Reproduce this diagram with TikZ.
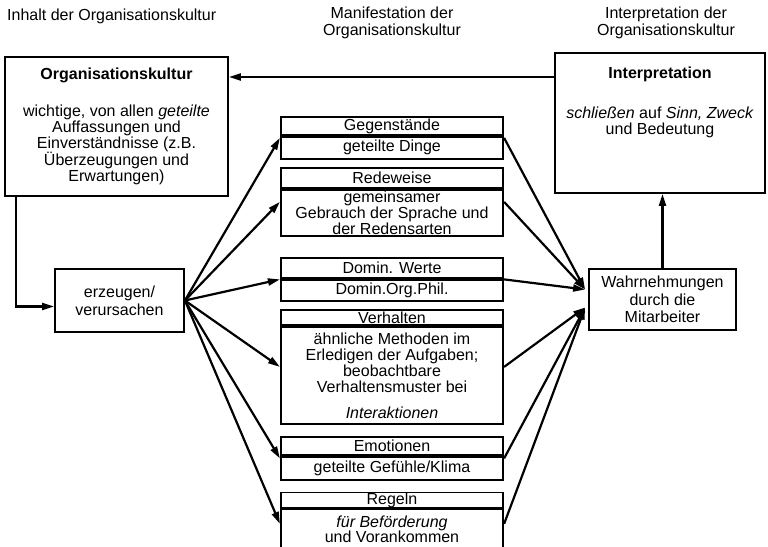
\documentclass[tikz,border=0pt]{standalone}
\usepackage{fontspec}
\setmainfont{Liberation Sans}
\usetikzlibrary{arrows.meta,fit}
\begin{document}
\begin{tikzpicture}[x=1pt,y=-1pt,
  every node/.style={font=\fontsize{16}{16}\selectfont, inner sep=0pt},
  frame/.style={draw, line width=1.8pt},
  cell/.style={frame, minimum width=222pt, align=center},
  link/.style={line width=2.2pt, -{Triangle[length=12pt,width=7pt]}},
  title/.style={align=center, font=\fontsize{16}{17}\selectfont}
]
\useasboundingbox (0,0) rectangle (768,546);
\clip (0,0) rectangle (768,546);

% column headings
\node[anchor=west] (hl) at (7,16) {Inhalt der Organisationskultur};
\node[title] (hm) at (392,23) {Manifestation der\\Organisationskultur};
\node[title] (hr) at (666,23) {Interpretation der\\Organisationskultur};

% content of the culture
\node[frame, minimum width=223pt, minimum height=139pt, align=center] (orgk) at (116.5,126.5)
  {\textbf{Organisationskultur}\\[21pt]wichtige, von allen \textit{geteilte}\\Auffassungen und\\Einverständnisse (z.B.\\Überzeugungen und\\Erwartungen)};

% interpretation
\node[frame, minimum width=210pt, minimum height=140pt] (interp) at (660,123) {};
\node[align=center] (interptxt) at (660,102)
  {\textbf{Interpretation}\\[24pt]\textit{schließen} auf \textit{Sinn, Zweck}\\und Bedeutung};

% cause
\node[frame, minimum width=129pt, minimum height=63pt, align=center,
      font=\fontsize{16}{18}\selectfont] (erz) at (119.5,300.5)
  {erzeugen/\\verursachen};

% perception
\node[frame, minimum width=147pt, minimum height=61pt, align=center,
      font=\fontsize{16}{17.5}\selectfont] (wahr) at (662.5,299.5)
  {Wahrnehmungen\\durch die\\Mitarbeiter};

% manifestations: heading cell + body cell
\node[cell, minimum height=18pt] (h1) at (392,126) {Gegenstände};
\node[cell, minimum height=22pt, anchor=north] (b1) at (h1.south) {geteilte Dinge};
\node[fit=(h1)(b1)] (m1) {};

\node[cell, minimum height=20pt] (h2) at (392,178) {Redeweise};
\node[cell, minimum height=46pt, anchor=north, font=\fontsize{16}{14.5}\selectfont] (b2) at (h2.south)
  {gemeinsamer\\Gebrauch der Sprache und\\der Redensarten};
\node[fit=(h2)(b2)] (m2) {};

\node[cell, minimum height=20pt] (h3) at (392,268) {Domin. Werte};
\node[cell, minimum height=21pt, anchor=north] (b3) at (h3.south) {Domin.Org.Phil.};
\node[fit=(h3)(b3)] (m3) {};

\node[cell, minimum height=15pt] (h4) at (392,317.5) {Verhalten};
\node[cell, minimum height=97pt, anchor=north] (b4) at (h4.south)
  {ähnliche Methoden im\\Erledigen der Aufgaben;\\beobachtbare\\Verhaltensmuster bei\\[10pt]\textit{Interaktionen}};
\node[fit=(h4)(b4)] (m4) {};

\node[cell, minimum height=18pt] (h5) at (392,446) {Emotionen};
\node[cell, minimum height=23pt, anchor=north] (b5) at (h5.south) {geteilte Gefühle/Klima};
\node[fit=(h5)(b5)] (m5) {};

\node[cell, minimum height=14pt] (h6) at (392,500) {Regeln};
\node[cell, minimum height=40pt, anchor=north, font=\fontsize{16}{15}\selectfont] (b6) at (h6.south)
  {\textit{für Beförderung}\\und Vorankommen};
\draw[line width=1.8pt] (b6.south west) -- ++(0,10) (b6.south east) -- ++(0,10);
\node[fit=(h6)(b6)] (m6) {};

% connectors
\draw[link] ([yshift=46pt]interp.west) coordinate (back) -- (orgk.east |- back);
\draw[link] ([xshift=12pt]orgk.south west) |- ([yshift=-6pt]erz.west);
\foreach \i in {1,...,5} \draw[link] (erz.east) -- (m\i.west);
\draw[link] (erz.east) -- ([yshift=-3pt]m6.west);
\foreach \i in {1,2,3} \draw[link] (m\i.east) -- ([xshift=-3pt,yshift=10pt]wahr.west);
\foreach \i in {4,5} \draw[link] (m\i.east) -- ([xshift=-3pt,yshift=-8pt]wahr.west);
\draw[link] ([yshift=-3pt]m6.east) -- ([xshift=-3pt,yshift=-8pt]wahr.west);
\draw[link] (wahr.north) -- (wahr.north |- interp.south);
\end{tikzpicture}
\end{document}
